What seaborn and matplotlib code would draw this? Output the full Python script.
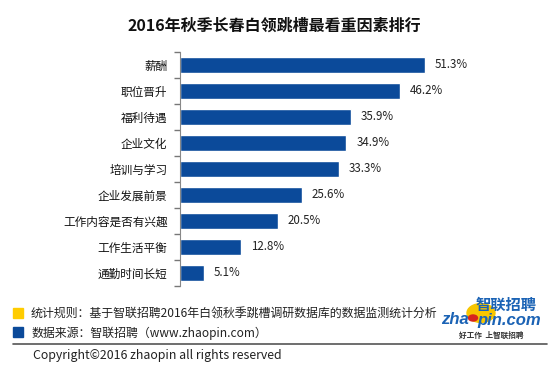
import matplotlib
matplotlib.use("Agg")
import matplotlib.pyplot as plt
import seaborn as sns
import pandas as pd
from matplotlib.patches import Circle, Rectangle
from matplotlib.lines import Line2D
from matplotlib.ticker import FixedLocator

factors = ['薪酬', '职位晋升', '福利待遇', '企业文化', '培训与学习',
           '企业发展前景', '工作内容是否有兴趣', '工作生活平衡', '通勤时间长短']
shares = [51.3, 46.2, 35.9, 34.9, 33.3, 25.6, 20.5, 12.8, 5.1]

title = '2016年秋季长春白领跳槽最看重因素排行'
note_rule = '统计规则：基于智联招聘2016年白领秋季跳槽调研数据库的数据监测统计分析'
note_src = '数据来源：智联招聘（www.zhaopin.com）'
copyright_txt = 'Copyright©2016 zhaopin all rights reserved'

sns.set_style('white')
plt.rcParams['font.family'] = ['Noto Sans CJK SC', 'DejaVu Sans']
plt.rcParams['ytick.left'] = True
plt.rcParams['ytick.minor.left'] = True

df = pd.DataFrame({'factor': factors, 'share': shares})

W, H = 550, 369
fig = plt.figure(figsize=(5.5, 3.69), dpi=100)
ax = fig.add_axes([180 / W, 1 - 286 / H, 320 / W, 234 / H])

sns.barplot(data=df, y='factor', x='share', orient='h', color='#0B4A9A',
            saturation=1, width=0.58, ax=ax)
ax.set_xlim(0, 320 / 4.77)
ax.set_ylim(8.5, -0.5)
ax.bar_label(ax.containers[0], fmt='%.1f%%', padding=7, fontsize=8.3,
             color='#222222')

ax.set_xlabel('')
ax.set_ylabel('')
ax.set_xticks([])
ax.yaxis.set_minor_locator(FixedLocator([i - 0.5 for i in range(len(factors) + 1)]))
ax.tick_params(axis='y', which='major', left=True, length=0, pad=9,
               labelsize=8.4, labelcolor='#111111')
ax.tick_params(axis='y', which='minor', left=True, length=4,
               color='#777777', width=1)
for s in ['top', 'right', 'bottom']:
    ax.spines[s].set_visible(False)
ax.spines['left'].set_color('#888888')
ax.spines['left'].set_linewidth(0.8)

fig.text(274 / W, 1 - 26 / H, title, ha='center', va='center',
         fontsize=11.5, weight='bold', color='#111111')

# footer
fig.patches.append(Rectangle((13 / W, 1 - 318 / H), 10 / W, 10 / H,
                             transform=fig.transFigure, color='#FFCC00'))
fig.patches.append(Rectangle((13 / W, 1 - 337 / H), 10 / W, 10 / H,
                             transform=fig.transFigure, color='#0B4A9A'))
fig.text(31 / W, 1 - 314 / H, note_rule, ha='left', va='center',
         fontsize=8.6, color='#222222')
fig.text(31 / W, 1 - 333 / H, note_src, ha='left', va='center',
         fontsize=8.6, color='#222222')
fig.lines.append(Line2D([13 / W, 547 / W], [1 - 343.5 / H, 1 - 343.5 / H],
                        transform=fig.transFigure, color='#555555', lw=1.2))
fig.text(33 / W, 1 - 356 / H, copyright_txt, ha='left', va='center',
         fontsize=8.9, color='#222222')

# logo
fig.patches.append(Circle((481 / W, 1 - 313 / H), 14 / W,
                          transform=fig.transFigure, color='#F7C600'))
fig.text(506 / W, 1 - 305 / H, '智联招聘', ha='center', va='center',
         fontsize=11, weight='bold', style='italic', color='#1B63B5')
fig.text(469 / W, 1 - 320 / H, 'zha', ha='right', va='center',
         fontsize=12, weight='bold', style='italic', color='#1B63B5',
         family='Liberation Sans')
fig.patches.append(Circle((473 / W, 1 - 318 / H), 4.5 / W,
                          transform=fig.transFigure, color='#D7261E'))
fig.text(477 / W, 1 - 320 / H, 'pin.com', ha='left', va='center',
         fontsize=12, weight='bold', style='italic', color='#1B63B5',
         family='Liberation Sans')
fig.text(491 / W, 1 - 335 / H, '好工作  上智联招聘', ha='center', va='center',
         fontsize=5.5, weight='bold', style='italic', color='#333333')

fig.savefig('out.png', dpi=100)
